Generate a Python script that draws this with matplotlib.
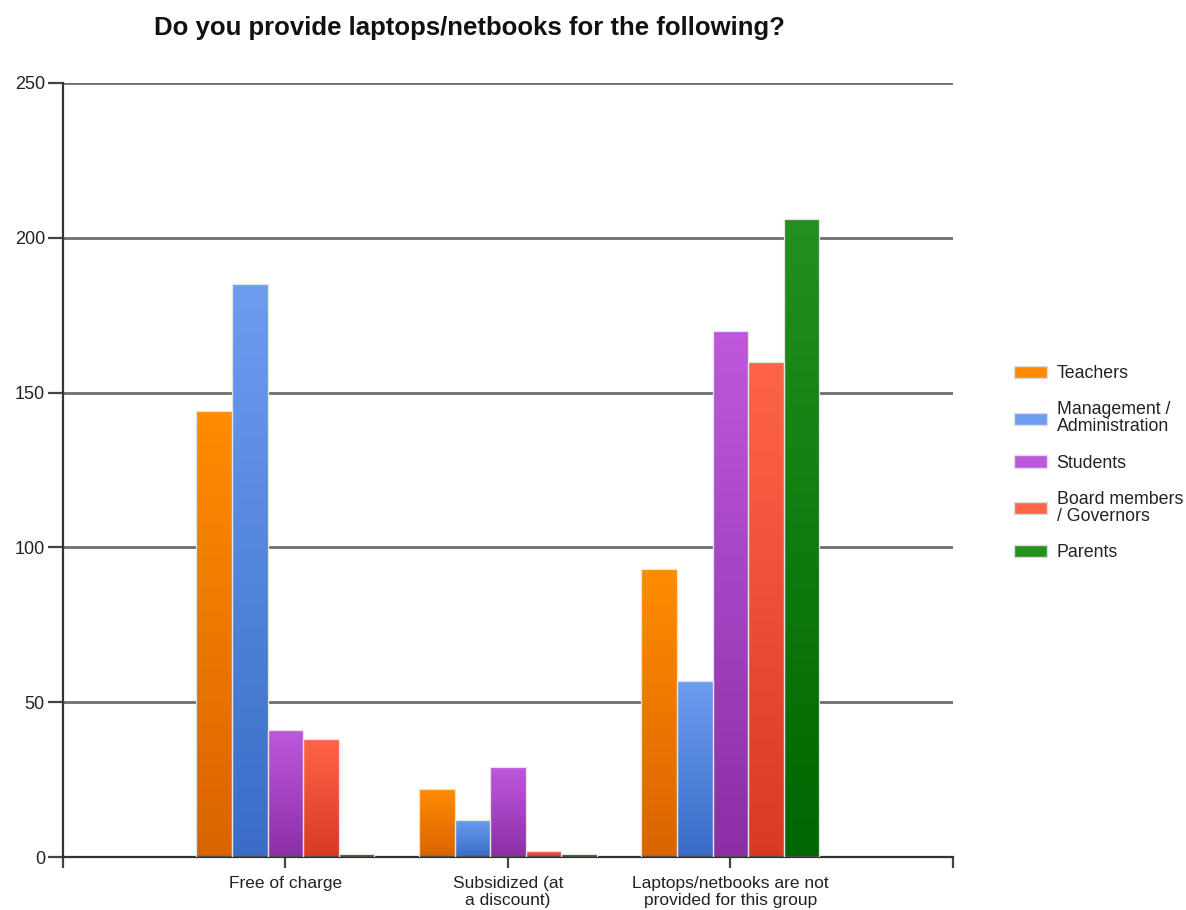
import numpy as np
import matplotlib
matplotlib.use('Agg')
import matplotlib.pyplot as plt
from matplotlib.colors import LinearSegmentedColormap
from matplotlib.patches import Patch

plt.rcParams['font.family'] = ['Liberation Sans', 'DejaVu Sans']

# data
categories = ['Free of charge', 'Subsidized (at\na discount)', 'Laptops/netbooks are not\nprovided for this group']
groups = ['Teachers', 'Management /\nAdministration', 'Students', 'Board members\n/ Governors', 'Parents']
teachers = [144, 22, 93]
management = [185, 12, 57]
students = [41, 29, 170]
board = [38, 2, 160]
parents = [1, 1, 206]

# (top colour, bottom colour) per series
gradients = [('#ff8c00', '#d96400'),
             ('#6b9ef0', '#3a6cc8'),
             ('#bf58dc', '#8c2ea8'),
             ('#ff6448', '#d83a22'),
             ('#23901f', '#006600')]


def gradient_bars(ax, x, heights, width, top, bottom):
    """Draw bars and fill each one with a vertical gradient."""
    bars = ax.bar(x, heights, width, facecolor='none', edgecolor='#e4e4e4', linewidth=0.9, zorder=3)
    cmap = LinearSegmentedColormap.from_list('g', [bottom, top])
    grad = np.linspace(1, 0, 256).reshape(-1, 1)
    for rect in bars:
        x0 = rect.get_x()
        h = rect.get_height()
        im = ax.imshow(grad, extent=[x0, x0 + rect.get_width(), 0, h], aspect='auto',
                       cmap=cmap, vmin=0, vmax=1, zorder=2, interpolation='bilinear')
        im.set_clip_path(rect)
    return bars


fig = plt.figure(figsize=(11.86, 9.10), dpi=100)
ax = fig.add_axes([0.0531, 0.0582, 0.7504, 0.8506])

series = [teachers, management, students, board, parents]
xpos = np.arange(1, len(categories) + 1)
width = 0.16
for i, vals in enumerate(series):
    offs = (i - 2) * width
    gradient_bars(ax, xpos + offs, vals, width, *gradients[i])

ax.set_xlim(0, 4)
ax.set_ylim(0, 250)
ax.set_yticks([0, 50, 100, 150, 200, 250])
ax.yaxis.grid(True, color='#6e6e6e', linewidth=2.0, zorder=1)
ax.set_axisbelow(True)

ax.set_xticks([0, 1, 2, 3, 4])
ax.set_xticklabels([''] + categories + [''], fontsize=12.5, color='#222222', linespacing=1.1)
ax.tick_params(axis='x', length=8, width=1.6, color='#444444', pad=6)
ax.tick_params(axis='y', length=11, width=1.6, color='#444444', labelsize=13, labelcolor='#222222', pad=2)

for side in ['top', 'right']:
    ax.spines[side].set_visible(False)
for side in ['left', 'bottom']:
    ax.spines[side].set_color('#333333')
    ax.spines[side].set_linewidth(1.6)

fig.text(0.396, 0.969, 'Do you provide laptops/netbooks for the following?',
         ha='center', va='center', fontsize=18.5, fontweight='bold', color='#111111')

handles = [Patch(facecolor=g[0], edgecolor='#dddddd') for g in gradients]
leg = fig.legend(handles, groups, loc='center left', bbox_to_anchor=(0.855, 0.491),
                 frameon=False, fontsize=12.8, handlelength=1.85, handleheight=0.7,
                 labelspacing=1.08, handletextpad=0.55, borderpad=0, borderaxespad=0,
                 labelcolor='#222222')
for t in leg.get_texts():
    t.set_linespacing(1.0)

fig.savefig('out.png', dpi=100)
